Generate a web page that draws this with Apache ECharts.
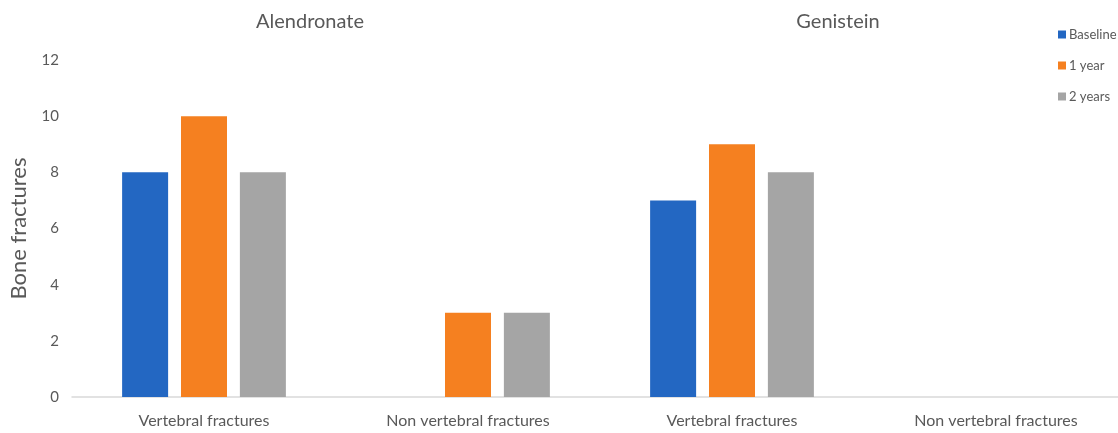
<!DOCTYPE html>
<html>
<head>
<meta charset="utf-8">
<script src="https://cdn.jsdelivr.net/npm/echarts@6/dist/echarts.min.js"></script>
<style>
  html, body { margin: 0; padding: 0; background: #fff; overflow: hidden; }
  /* the plot runs slightly past the right edge of the page */
  #chart { width: 1128px; height: 433px; }
</style>
</head>
<body>
<div id="chart"></div>
<script>
// Fracture counts per treatment group and follow-up point
const categories = ['Vertebral fractures', 'Non vertebral fractures', 'Vertebral fractures', 'Non vertebral fractures'];
const groupTitles = ['Alendronate', 'Genistein'];
const baseline = [8, 0, 7, 0];
const oneYear = [10, 3, 9, 0];
const twoYears = [8, 3, 8, 0];
const yTicks = [0, 2, 4, 6, 8, 10, 12];

const FONT = 'Lato, "Open Sans", sans-serif';
const TEXT = '#595959';

const chart = echarts.init(document.getElementById('chart'));
chart.setOption({
  animation: false,
  textStyle: { fontFamily: FONT },
  graphic: [
    { type: 'text', x: 310, y: 12,
      style: { text: groupTitles[0], align: 'center', font: '20px ' + FONT, fill: TEXT } },
    { type: 'text', x: 838, y: 12,
      style: { text: groupTitles[1], align: 'center', font: '20px ' + FONT, fill: TEXT } }
  ],
  legend: {
    orient: 'vertical',
    left: 1053,
    top: 23,
    itemWidth: 8,
    itemHeight: 8,
    itemGap: 18,
    icon: 'rect',
    textStyle: { fontFamily: FONT, fontSize: 13, color: TEXT, padding: [0, 0, 0, -2] },
    data: ['Baseline', '1 year', '2 years']
  },
  grid: { left: 68, right: 0, top: 60, bottom: 36, containLabel: false },
  xAxis: {
    type: 'category',
    data: categories,
    axisLine: { lineStyle: { color: '#D9D9D9', width: 1.5 } },
    axisTick: { show: false },
    axisLabel: { fontFamily: FONT, fontSize: 16, color: TEXT, margin: 16 }
  },
  yAxis: {
    type: 'value',
    min: yTicks[0],
    max: yTicks[yTicks.length - 1],
    interval: 2,
    name: 'Bone fractures',
    nameLocation: 'middle',
    nameGap: 42,
    nameTextStyle: { fontFamily: FONT, fontSize: 22, color: TEXT },
    axisLine: { show: false },
    axisTick: { show: false },
    splitLine: { show: false },
    axisLabel: { fontFamily: FONT, fontSize: 15, color: TEXT, margin: 13 }
  },
  series: [
    { name: 'Baseline', type: 'bar', data: baseline, barWidth: 46, barGap: '28%',
      itemStyle: { color: '#2367C2' } },
    { name: '1 year', type: 'bar', data: oneYear, barWidth: 46, barGap: '28%',
      itemStyle: { color: '#F58020' } },
    { name: '2 years', type: 'bar', data: twoYears, barWidth: 46, barGap: '28%',
      itemStyle: { color: '#A5A5A5' } }
  ]
});
</script>
</body>
</html>
